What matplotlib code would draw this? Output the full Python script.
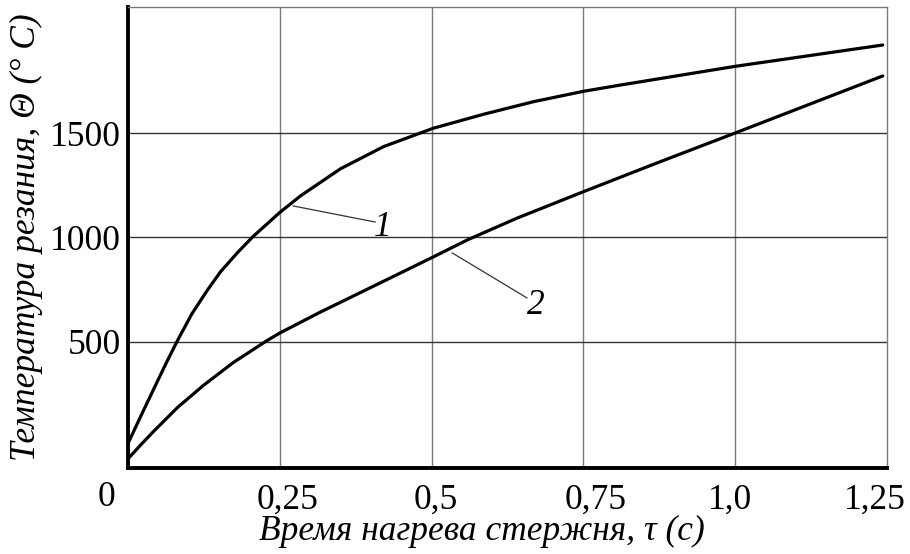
import matplotlib
matplotlib.use("Agg")
import matplotlib.pyplot as plt
from matplotlib.transforms import ScaledTranslation

# кривая 1
t1 = [0.0, 0.020, 0.041, 0.064, 0.082, 0.105, 0.130, 0.152, 0.181, 0.206,
      0.25, 0.284, 0.35, 0.421, 0.503, 0.586, 0.668, 0.751, 0.812, 1.0, 1.243]
temp1 = [15, 139, 267, 406, 510, 634, 745, 835, 930, 1005,
         1120, 1199, 1329, 1435, 1523, 1590, 1650, 1700, 1730, 1819, 1921]

# кривая 2
t2 = [0.0, 0.020, 0.041, 0.082, 0.124, 0.173, 0.229, 0.25, 0.316, 0.40,
      0.502, 0.56, 0.641, 0.749, 0.875, 1.0, 1.243]
temp2 = [-59, 5, 69, 188, 292, 401, 507, 543, 642, 761,
         906, 990, 1093, 1218, 1361, 1500, 1773]

x_ticks = [0.25, 0.5, 0.75, 1.0, 1.25]
x_labels = ["0,25", "0,5", "0,75", "1,0", "1,25"]
y_ticks = [500, 1000, 1500]
y_labels = ["500", "1000", "1500"]

plt.rcParams["font.family"] = ["Liberation Serif", "DejaVu Serif"]

fs = 25.5
fig = plt.figure(figsize=(9.1, 5.54), dpi=100)
ax = fig.add_axes([0.1407, 0.1552, 0.834, 0.8322])

ax.plot(t1, temp1, color="black", lw=2.3, solid_capstyle="round",
        solid_joinstyle="round", zorder=3)
ax.plot(t2, temp2, color="black", lw=2.3, solid_capstyle="round",
        solid_joinstyle="round", zorder=3)

ax.set_xlim(0, 1.25)
ax.set_ylim(-103, 2103)

ax.set_xticks(x_ticks)
ax.set_xticklabels(x_labels, fontsize=fs)
ax.set_yticks(y_ticks)
ax.set_yticklabels(y_labels, fontsize=fs)
ax.tick_params(length=0)
ax.tick_params(axis="x", pad=11)
ax.tick_params(axis="y", pad=5)

# подписи по оси x немного сдвинуты, как на рисунке
shifts = [5.5, 3.0, 9.0, -3.5, -9.0]
for lab, dx in zip(ax.get_xticklabels(), shifts):
    lab.set_transform(lab.get_transform() + ScaledTranslation(dx / 72, 0, fig.dpi_scale_trans))

for x in x_ticks[:-1]:
    ax.axvline(x, color="#7a7a7a", lw=1.0, zorder=1)
for y in y_ticks:
    ax.axhline(y, color="#333333", lw=1.0, zorder=1)

ax.spines["left"].set_linewidth(2.8)
ax.spines["bottom"].set_linewidth(2.8)
ax.spines["top"].set_linewidth(1.0)
ax.spines["right"].set_linewidth(1.0)
ax.spines["top"].set_color("#7a7a7a")
ax.spines["right"].set_color("#7a7a7a")

# ноль в углу
ax.text(-0.036, -0.063, "0", fontsize=fs, ha="center", va="center",
        transform=ax.get_xaxis_transform(), clip_on=False)

# выноски
ax.plot([0.272, 0.407], [1151, 1074], color="#333333", lw=0.9, zorder=2)
ax.text(0.42, 1050, "1", fontsize=fs, style="italic", ha="center", va="center")
ax.plot([0.534, 0.657], [926, 711], color="#333333", lw=0.9, zorder=2)
ax.text(0.671, 677, "2", fontsize=fs, style="italic", ha="center", va="center")

fig.text(0.529, 0.040, "Время нагрева стержня, τ (с)", fontsize=fs,
         style="italic", ha="center", va="center")
fig.text(0.029, 0.572, "Температура резания, Θ (° C)", fontsize=fs,
         style="italic", ha="center", va="center", rotation=90)

fig.savefig("out.png", dpi=100)
